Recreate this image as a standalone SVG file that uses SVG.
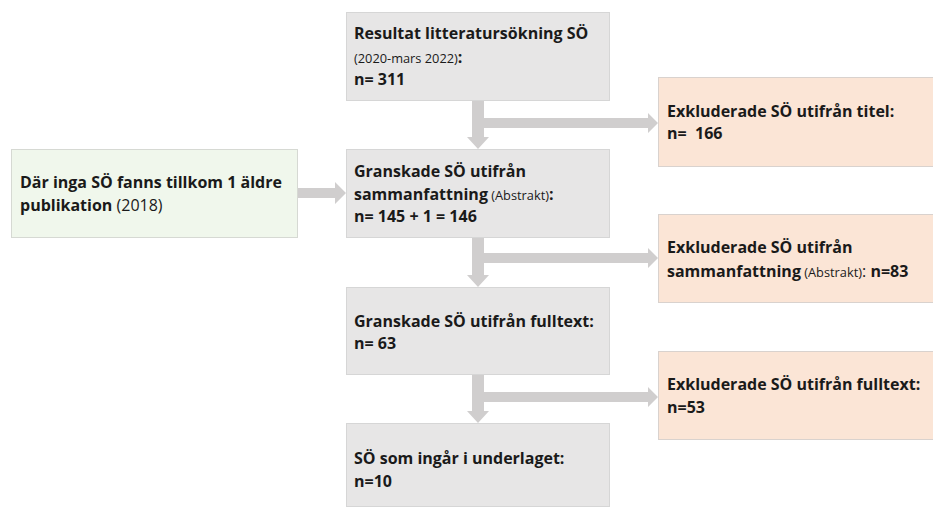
<svg xmlns="http://www.w3.org/2000/svg" width="933" height="507" viewBox="0 0 933 507">
<style>
  .gray { fill: #E7E6E6; stroke: #D6D6D6; stroke-width: 1; }
  .orange { fill: #FBE5D6; stroke: #D9D2CE; stroke-width: 1; }
  .green { fill: #F0F7EC; stroke: #D6D9D3; stroke-width: 1; }
  .arrow { fill: #D0CECE; }
  text { font-family: "Open Sans", Lato, "Liberation Sans", sans-serif; font-size: 16px; fill: #1A1A1A; }
  .b { font-weight: bold; }
  .s { font-size: 12.8px; font-weight: normal; }
  .r { font-weight: normal; }
</style>
<rect width="933" height="507" fill="#FFFFFF"/>
<g id="connectors">
  <polygon class="arrow" points="472,101 484,101 484,137 489,137 478,149 467,137 472,137"/>
  <polygon class="arrow" points="484,118 648,118 648,113 658,123 648,133 648,128 484,128"/>
  <polygon class="arrow" points="472,238 484,238 484,275 489,275 478,287 467,275 472,275"/>
  <polygon class="arrow" points="484,253 648,253 648,248 658,258 648,268 648,263 484,263"/>
  <polygon class="arrow" points="472,375 484,375 484,411 489,411 478,423 467,411 472,411"/>
  <polygon class="arrow" points="484,392 648,392 648,387 658,397 648,407 648,402 484,402"/>
  <polygon class="arrow" points="298,188 335,188 335,182 346,193 335,204 335,198 298,198"/>
</g>
<g id="result">
  <rect class="gray" x="346.5" y="12.5" width="263" height="88"/>
  <text x="354" y="39" class="b">Resultat litteratursökning SÖ</text>
  <text x="354" y="63"><tspan class="s">(2020-mars 2022)</tspan><tspan class="b">:</tspan></text>
  <text x="354" y="85" class="b">n= 311</text>
</g>
<g id="abstract">
  <rect class="gray" x="346.5" y="149.5" width="263" height="88"/>
  <text x="354" y="177" class="b">Granskade SÖ utifrån</text>
  <text x="354" y="200"><tspan class="b">sammanfattning</tspan><tspan class="s"> (Abstrakt)</tspan><tspan class="b">:</tspan></text>
  <text x="354" y="222" class="b">n= 145 + 1 = 146</text>
</g>
<g id="fulltext">
  <rect class="gray" x="346.5" y="287.5" width="263" height="87"/>
  <text x="354" y="327" class="b">Granskade SÖ utifrån fulltext:</text>
  <text x="354" y="349" class="b">n= 63</text>
</g>
<g id="included">
  <rect class="gray" x="346.5" y="423.5" width="263" height="83"/>
  <text x="354" y="464" class="b">SÖ som ingår i underlaget:</text>
  <text x="354" y="487" class="b">n=10</text>
</g>
<g id="older">
  <rect class="green" x="11.5" y="149.5" width="286" height="88"/>
  <text x="20" y="188" class="b">Där inga SÖ fanns tillkom 1 äldre</text>
  <text x="20" y="211"><tspan class="b">publikation</tspan><tspan class="r"> (2018)</tspan></text>
</g>
<g id="excl-title">
  <rect class="orange" x="658.5" y="77.5" width="276" height="89"/>
  <text x="667" y="117" class="b">Exkluderade SÖ utifrån titel:</text>
  <text x="667" y="139" class="b" xml:space="preserve">n=  166</text>
</g>
<g id="excl-abstract">
  <rect class="orange" x="658.5" y="214.5" width="276" height="88"/>
  <text x="667" y="253" class="b">Exkluderade SÖ utifrån</text>
  <text x="667" y="277"><tspan class="b">sammanfattning</tspan><tspan class="s"> (Abstrakt)</tspan><tspan class="r">: </tspan><tspan class="b">n=83</tspan></text>
</g>
<g id="excl-fulltext">
  <rect class="orange" x="658.5" y="351.5" width="276" height="88"/>
  <text x="667" y="390" class="b">Exkluderade SÖ utifrån fulltext:</text>
  <text x="667" y="413" class="b">n=53</text>
</g>
</svg>
